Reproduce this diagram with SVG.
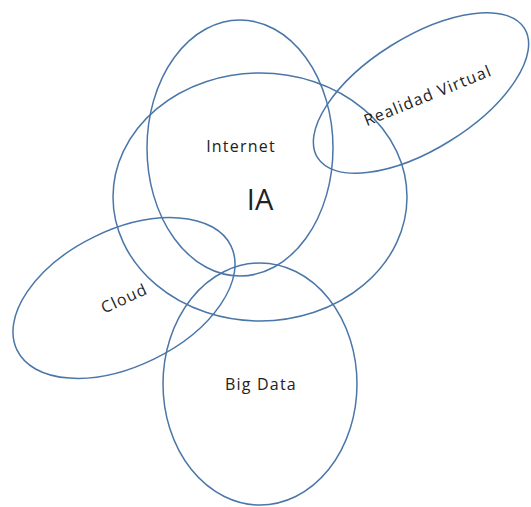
<svg xmlns="http://www.w3.org/2000/svg" width="531" height="507" viewBox="0 0 531 507">
<style>
.e{fill:none;stroke:#4a76a8;stroke-width:1.5}
.t{font-family:"Open Sans","Liberation Sans",sans-serif;fill:#222;text-anchor:middle;font-size:16px;letter-spacing:1.2px}
</style>
<rect width="531" height="507" fill="#fff"/>
<g id="internet"><ellipse class="e" cx="240" cy="148" rx="93" ry="128"/><text class="t" x="241" y="152">Internet</text></g>
<g id="ia"><ellipse class="e" cx="260" cy="197" rx="147" ry="124"/><text class="t" x="260" y="210" style="font-size:29px;letter-spacing:0">IA</text></g>
<g id="vr"><ellipse class="e" cx="421" cy="93" rx="122" ry="56" transform="rotate(-32 421 93)"/><text class="t" x="428" y="101" transform="rotate(-22 428 96)">Realidad Virtual</text></g>
<g id="cloud"><ellipse class="e" cx="124" cy="298" rx="119" ry="68" transform="rotate(-26 124 298)"/><text class="t" x="124" y="304" transform="rotate(-25 124 298)">Cloud</text></g>
<g id="bigdata"><ellipse class="e" cx="260" cy="384" rx="97" ry="121"/><text class="t" x="261" y="390">Big Data</text></g>
</svg>
